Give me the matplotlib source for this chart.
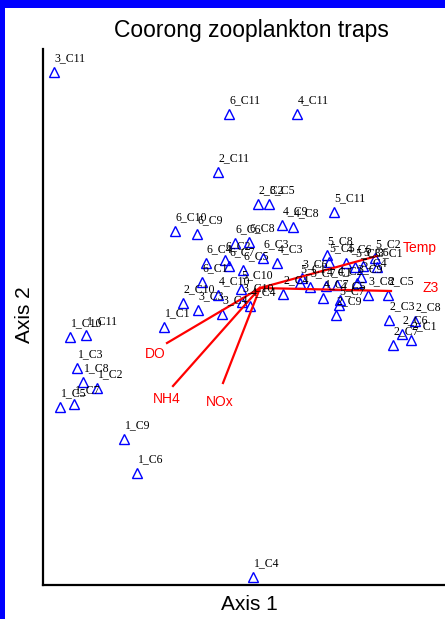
import matplotlib
matplotlib.use("Agg")
import matplotlib.pyplot as plt
from matplotlib.patches import Rectangle

# Site scores (Axis 1, Axis 2)
labels = [
    "1_C1", "1_C2", "1_C3", "1_C4", "1_C5", "1_C6", "1_C7", "1_C8", "1_C9", "1_C10", "1_C11",
    "6_C11", "4_C11", "2_C11", "2_C2", "3_C5", "4_C9", "4_C8", "5_C11", "3_C11",
    "6_C10", "6_C9", "6_C6", "6_C8", "6_C4", "6_C2", "6_C7", "6_C3", "4_C3", "6_C5", "6_C1",
    "4_C10", "5_C10", "3_C10", "4_C4", "3_C4", "3_C3", "2_C10", "2_C4",
    "5_C8", "5_C5", "4_C6", "5_C3", "5_C6", "3_C1", "5_C2", "5_C4", "3_C9", "3_C6",
    "5_C1", "3_C7", "4_C7", "4_C1", "4_C2", "4_C5", "5_C7", "2_C9", "3_C8", "2_C5",
    "2_C3", "2_C8", "2_C6", "2_C1", "2_C7",
]
axis1 = [
    1.21, 0.54, 0.34, 2.10, 0.17, 0.94, 0.31, 0.40, 0.81, 0.27, 0.43,
    1.86, 2.54, 1.75, 2.15, 2.26, 2.39, 2.50, 2.91, 0.11,
    1.32, 1.54, 1.92, 2.06, 1.63, 1.82, 1.86, 2.20, 2.34, 2.00, 1.59,
    1.75, 1.98, 1.99, 2.07, 1.79, 1.55, 1.40, 2.40,
    2.84, 2.86, 3.03, 3.12, 3.20, 3.34, 3.32, 3.18, 3.14, 2.59,
    2.57, 2.67, 2.80, 2.83, 2.94, 2.97, 2.96, 2.93, 3.25, 3.45,
    3.46, 3.72, 3.59, 3.68, 3.50,
]
axis2 = [
    2.58, 1.97, 2.17, 0.08, 1.78, 1.12, 1.81, 2.03, 1.46, 2.48, 2.50,
    4.71, 4.71, 4.13, 3.81, 3.81, 3.60, 3.58, 3.73, 5.13,
    3.54, 3.51, 3.42, 3.43, 3.22, 3.25, 3.19, 3.27, 3.22, 3.15, 3.03,
    2.90, 2.96, 2.83, 2.79, 2.71, 2.75, 2.82, 2.91,
    3.30, 3.23, 3.22, 3.18, 3.19, 3.18, 3.27, 3.08, 3.02, 3.07,
    3.02, 2.98, 2.87, 2.99, 3.00, 2.85, 2.80, 2.70, 2.90, 2.90,
    2.65, 2.64, 2.51, 2.45, 2.40,
]

# Environmental vectors
env_names = ["Temp", "Z3", "DO", "NH4", "NOx"]
env_origin = (2.17, 2.97)
env_x = [3.34, 3.48, 1.24, 1.30, 1.80]
env_y = [3.29, 2.94, 2.42, 1.99, 2.02]
env_lab_x = [3.77, 3.88, 1.12, 1.24, 1.77]
env_lab_y = [3.37, 2.97, 2.31, 1.86, 1.83]

fig = plt.figure(figsize=(4.45, 6.19), dpi=100)
fig.patch.set_facecolor("#0000FF")
fig.patches.append(Rectangle((5 / 445, 0), 1, (619 - 8) / 619,
                             transform=fig.transFigure, facecolor="white",
                             edgecolor="none", zorder=-10))

ax = fig.add_axes([43 / 445, 34 / 619, (445 - 43) / 445, 536 / 619])
ax.set_zorder(5)
ax.set_xlim(0, 4.02)
ax.set_ylim(0, 5.36)
ax.patch.set_alpha(0)
for s in ["top", "right"]:
    ax.spines[s].set_visible(False)
for s in ["left", "bottom"]:
    ax.spines[s].set_linewidth(1.6)
ax.set_xticks([])
ax.set_yticks([])

ax.plot(axis1, axis2, linestyle="none", marker="^", markersize=7,
        markerfacecolor="none", markeredgecolor="#0000FF", markeredgewidth=1.0)
for x, y, t in zip(axis1, axis2, labels):
    ax.annotate(t, (x, y), xytext=(0.5, 5.5), textcoords="offset points",
                fontsize=8.5, family="Liberation Serif", color="black",
                ha="left", va="bottom")

for ex, ey, lx, ly, n in zip(env_x, env_y, env_lab_x, env_lab_y, env_names):
    ax.plot([env_origin[0], ex], [env_origin[1], ey], color="#FF0000", lw=1.6)
    ax.text(lx, ly, n, color="#FF0000", fontsize=10, family="Liberation Sans",
            ha="center", va="center")

fig.text(251.5 / 445, 1 - 30 / 619, "Coorong zooplankton traps", ha="center",
         va="center", fontsize=16.5, family="Liberation Sans")
fig.text(249.5 / 445, 1 - 605 / 619, "Axis 1", ha="center", va="center",
         fontsize=15, family="Liberation Sans")
fig.text(25 / 445, 1 - 315 / 619, "Axis 2", ha="center", va="center",
         rotation=90, fontsize=15, family="Liberation Sans")

fig.savefig("out.png", dpi=100, facecolor=fig.get_facecolor())
